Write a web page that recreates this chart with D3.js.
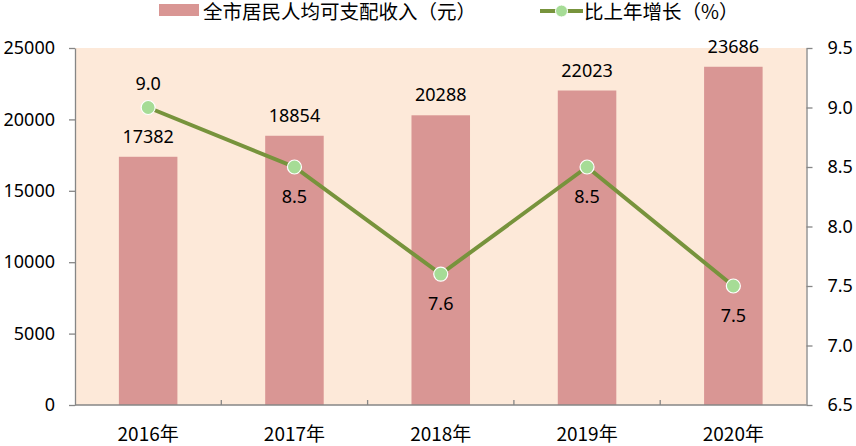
<!DOCTYPE html>
<html>
<head>
<meta charset="utf-8">
<script src="https://cdn.jsdelivr.net/npm/d3@7"></script>
<style>
  body { margin: 0; background: #fff; }
  text { font-family: "Noto Sans", "Noto Sans CJK SC", sans-serif; fill: #000; }
  .cjk { font-family: "Noto Sans CJK SC", sans-serif; }
</style>
</head>
<body>
<div id="chart"></div>
<script>
// data
var years = ["2016年", "2017年", "2018年", "2019年", "2020年"];
var income = [17382, 18854, 20288, 22023, 23686];
var growth = [9.0, 8.5, 7.6, 8.5, 7.5];
var leftTicks = [0, 5000, 10000, 15000, 20000, 25000];
var rightTicks = [6.5, 7.0, 7.5, 8.0, 8.5, 9.0, 9.5];
var incomeName = "全市居民人均可支配收入（元）";
var growthName = "比上年增长（%）";

var width = 856;
var height = 446;
var plotLeft = 75, plotRight = 806.5, plotTop = 48, plotBottom = 405;

var svg = d3.select("#chart")
  .append("svg")
  .attr("width", width)
  .attr("height", height);

var xScale = d3.scaleBand()
  .domain(years)
  .range([plotLeft, plotRight])
  .paddingInner(0.6)
  .paddingOuter(0.3);
var xBand = d3.scaleBand().domain(years).range([plotLeft, plotRight]);

var yLeft = d3.scaleLinear().domain([0, 25000]).range([plotBottom, plotTop]);
var yRight = d3.scaleLinear().domain([6.5, 9.5]).range([plotBottom, plotTop]);

// plot background
svg.append("rect")
  .attr("x", plotLeft)
  .attr("y", plotTop)
  .attr("width", plotRight - plotLeft)
  .attr("height", plotBottom - plotTop)
  .attr("fill", "#fde9d9");

// bars
svg.selectAll(".bar")
  .data(income)
  .enter()
  .append("rect")
  .attr("class", "bar")
  .attr("x", function(d, i) { return xScale(years[i]); })
  .attr("y", function(d) { return yLeft(d); })
  .attr("width", xScale.bandwidth())
  .attr("height", function(d) { return plotBottom - yLeft(d); })
  .attr("fill", "#d99694");

// axes
var axisColor = "#868686";
var gLeft = svg.append("g")
  .attr("transform", "translate(" + plotLeft + ",0)")
  .call(d3.axisLeft(yLeft).tickValues(leftTicks).tickSize(6).tickSizeOuter(0).tickPadding(14).tickFormat(d3.format("d")));
var gRight = svg.append("g")
  .attr("transform", "translate(" + plotRight + ",0)")
  .call(d3.axisRight(yRight).tickValues(rightTicks).tickSize(6).tickSizeOuter(0).tickPadding(15).tickFormat(d3.format(".1f")));
[gLeft, gRight].forEach(function(g) {
  g.select(".domain").attr("stroke", axisColor).attr("stroke-width", 1.3);
  g.selectAll(".tick line").attr("stroke", axisColor).attr("stroke-width", 1.3);
  g.selectAll(".tick text").attr("font-size", 18).attr("fill", "#000")
    .attr("font-family", "'Noto Sans', sans-serif");
});

// x axis with category separators
var gBottom = svg.append("g")
  .attr("transform", "translate(0," + plotBottom + ")");
gBottom.append("line")
  .attr("x1", plotLeft).attr("x2", plotRight)
  .attr("stroke", axisColor).attr("stroke-width", 1.3);
gBottom.selectAll(".sep")
  .data(years.slice(1))
  .enter()
  .append("line")
  .attr("x1", function(d) { return xBand(d); })
  .attr("x2", function(d) { return xBand(d); })
  .attr("y1", 0).attr("y2", -5)
  .attr("stroke", axisColor).attr("stroke-width", 1.3);
gBottom.selectAll(".year")
  .data(years)
  .enter()
  .append("text")
  .attr("class", "cjk")
  .attr("x", function(d) { return xBand(d) + xBand.bandwidth() / 2; })
  .attr("y", 36)
  .attr("text-anchor", "middle")
  .attr("font-size", 19)
  .text(function(d) { return d; });

// line
var cx = function(d, i) { return xBand(years[i]) + xBand.bandwidth() / 2; };
var line = d3.line()
  .x(cx)
  .y(function(d) { return yRight(d); });
svg.append("path")
  .datum(growth)
  .attr("d", line)
  .attr("fill", "none")
  .attr("stroke", "#77933c")
  .attr("stroke-width", 4);
svg.selectAll(".pt")
  .data(growth)
  .enter()
  .append("circle")
  .attr("cx", cx)
  .attr("cy", function(d) { return yRight(d); })
  .attr("r", 7)
  .attr("fill", "#a6dc96")
  .attr("stroke", "#ffffff")
  .attr("stroke-width", 1.2);

// bar labels
svg.selectAll(".barLabel")
  .data(income)
  .enter()
  .append("text")
  .attr("x", cx)
  .attr("y", function(d) { return yLeft(d) - 14; })
  .attr("text-anchor", "middle")
  .attr("font-size", 18)
  .text(function(d) { return d; });

// growth labels (first above, the rest below)
svg.selectAll(".ptLabel")
  .data(growth)
  .enter()
  .append("text")
  .attr("x", cx)
  .attr("y", function(d, i) { return i === 0 ? yRight(d) - 18 : yRight(d) + 36; })
  .attr("text-anchor", "middle")
  .attr("font-size", 18)
  .text(function(d) { return d3.format(".1f")(d); });

// legend
var legend = svg.append("g");
legend.append("rect")
  .attr("x", 159).attr("y", 4)
  .attr("width", 40).attr("height", 12)
  .attr("fill", "#d99694");
legend.append("text")
  .attr("class", "cjk")
  .attr("x", 203).attr("y", 19)
  .attr("font-size", 19.5)
  .text(incomeName);
legend.append("line")
  .attr("x1", 540).attr("x2", 583)
  .attr("y1", 11).attr("y2", 11)
  .attr("stroke", "#77933c").attr("stroke-width", 4);
legend.append("circle")
  .attr("cx", 561.5).attr("cy", 11).attr("r", 6)
  .attr("fill", "#a6dc96").attr("stroke", "#ffffff").attr("stroke-width", 1);
legend.append("text")
  .attr("class", "cjk")
  .attr("x", 584).attr("y", 19)
  .attr("font-size", 19.5)
  .text(growthName);
</script>
</body>
</html>
